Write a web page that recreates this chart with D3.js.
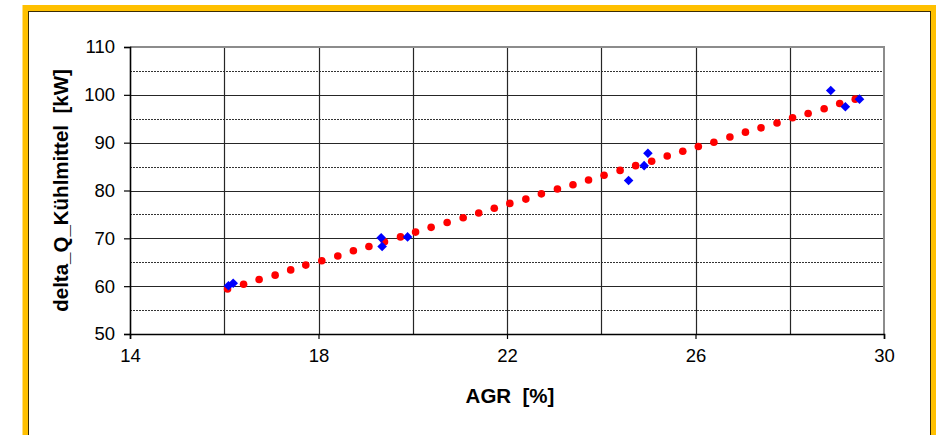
<!DOCTYPE html>
<html>
<head>
<meta charset="utf-8">
<script src="https://cdn.jsdelivr.net/npm/d3@7"></script>
<style>
  body { margin: 0; background: #fff; }
  svg { display: block; font-family: Arial, "Liberation Sans", sans-serif; }
  .title { white-space: pre; }
</style>
</head>
<body>
<div id="chart"></div>
<script>
// measured values (blue diamonds)
var measAgr = [16.09, 16.19, 19.33, 19.35, 19.89, 24.58, 24.91, 24.99, 28.87, 29.18, 29.48]
var measQ   = [60.1, 60.6, 70.1, 68.3, 70.3, 82.1, 85.2, 87.8, 100.9, 97.5, 99.1]

// trend dots (red)
var fitAgr = [16.07, 16.41, 16.74, 17.08, 17.41, 17.73, 18.07, 18.41, 18.74, 19.07,
              19.40, 19.74, 20.06, 20.39, 20.73, 21.07, 21.40, 21.73, 22.06, 22.40,
              22.73, 23.07, 23.40, 23.73, 24.06, 24.40, 24.73, 25.07, 25.40, 25.73,
              26.06, 26.39, 26.73, 27.06, 27.39, 27.73, 28.06, 28.39, 28.73, 29.06, 29.39]
var fitQ   = [59.4, 60.4, 61.4, 62.3, 63.4, 64.4, 65.3, 66.3, 67.4, 68.3,
              69.3, 70.3, 71.3, 72.3, 73.3, 74.3, 75.3, 76.3, 77.3, 78.2,
              79.3, 80.3, 81.2, 82.2, 83.2, 84.2, 85.2, 86.1, 87.2, 88.2,
              89.2, 90.1, 91.2, 92.2, 93.1, 94.1, 95.2, 96.1, 97.1, 98.2, 99.1]

var xTicks = [14, 18, 22, 26, 30]
var xGrid  = [16, 18, 20, 22, 24, 26, 28]
var yTicks = [50, 60, 70, 80, 90, 100, 110]
var yMinor = [55, 65, 75, 85, 95, 105]

var width = 936, height = 435
var plot = {left: 130, right: 884, top: 47, bottom: 334}

var svg = d3.select('#chart').append('svg')
    .attr('width', width)
    .attr('height', height)

// orange frame
svg.append('rect')
    .attr('x', 22.5).attr('y', 5)
    .attr('width', width - 22.5).attr('height', height)
    .attr('fill', '#FFC000')
svg.append('rect')
    .attr('x', 28.5).attr('y', 11.5)
    .attr('width', 902).attr('height', height)
    .attr('fill', '#fff')
    .attr('stroke', '#3a2c05')
    .attr('stroke-width', 1)

var x = d3.scaleLinear().domain([14, 30]).range([plot.left, plot.right])
var y = d3.scaleLinear().domain([50, 110]).range([plot.bottom, plot.top])

var g = svg.append('g')

// minor dotted horizontals
g.selectAll('line.minor')
    .data(yMinor)
    .enter().append('line')
    .attr('class', 'minor')
    .attr('x1', plot.left).attr('x2', plot.right)
    .attr('y1', function(d) { return Math.round(y(d)) + 0.5 })
    .attr('y2', function(d) { return Math.round(y(d)) + 0.5 })
    .attr('stroke', '#333')
    .attr('stroke-width', 1)
    .attr('stroke-dasharray', '2,1')

// major horizontals
g.selectAll('line.hmajor')
    .data(yTicks.slice(1, -1))
    .enter().append('line')
    .attr('class', 'hmajor')
    .attr('x1', plot.left).attr('x2', plot.right)
    .attr('y1', function(d) { return Math.round(y(d)) + 0.5 })
    .attr('y2', function(d) { return Math.round(y(d)) + 0.5 })
    .attr('stroke', '#262626')
    .attr('stroke-width', 1.2)

// verticals
g.selectAll('line.vgrid')
    .data(xGrid)
    .enter().append('line')
    .attr('class', 'vgrid')
    .attr('y1', plot.top).attr('y2', plot.bottom)
    .attr('x1', function(d) { return Math.round(x(d)) + 0.5 })
    .attr('x2', function(d) { return Math.round(x(d)) + 0.5 })
    .attr('stroke', '#262626')
    .attr('stroke-width', 1.2)

// top and right border of plot area
g.append('path')
    .attr('d', 'M' + plot.left + ',' + plot.top + 'H' + plot.right + 'V' + plot.bottom)
    .attr('fill', 'none')
    .attr('stroke', '#8c8c8c')
    .attr('stroke-width', 2)

// axes
var yAxis = d3.axisLeft(y).tickValues(yTicks).tickSize(6).tickPadding(9)
var xAxis = d3.axisBottom(x).tickValues(xTicks).tickSize(5).tickPadding(10)

var ya = g.append('g')
    .attr('transform', 'translate(' + plot.left + ',0)')
    .call(yAxis)
var xa = g.append('g')
    .attr('transform', 'translate(0,' + plot.bottom + ')')
    .call(xAxis)

;[ya, xa].forEach(function(a) {
  a.select('.domain').attr('stroke', '#000').attr('stroke-width', 1.6)
  a.selectAll('.tick line').attr('stroke', '#000').attr('stroke-width', 1.2)
  a.selectAll('.tick text')
      .attr('fill', '#000')
      .style('font-size', '18.5px')
      .style('font-family', 'Arial, "Liberation Sans", sans-serif')
})

// trend dots
g.selectAll('circle.fit')
    .data(fitAgr)
    .enter().append('circle')
    .attr('class', 'fit')
    .attr('cx', function(d) { return x(d) })
    .attr('cy', function(d, i) { return y(fitQ[i]) })
    .attr('r', 3.8)
    .attr('fill', '#FF0000')

// measured diamonds
var diamond = d3.symbol().type(d3.symbolSquare).size(46)
g.selectAll('path.meas')
    .data(measAgr)
    .enter().append('path')
    .attr('class', 'meas')
    .attr('d', diamond)
    .attr('transform', function(d, i) {
      return 'translate(' + x(d) + ',' + y(measQ[i]) + ') rotate(45)'
    })
    .attr('fill', '#0000FF')

// axis titles
svg.append('text')
    .attr('class', 'title')
    .attr('x', (plot.left + plot.right) / 2 + 3)
    .attr('y', 403)
    .attr('text-anchor', 'middle')
    .style('font-size', '20.5px')
    .style('font-weight', 'bold')
    .text('AGR  [%]')

svg.append('text')
    .attr('class', 'title')
    .attr('transform', 'translate(68,' + ((plot.top + plot.bottom) / 2) + ') rotate(-90)')
    .attr('text-anchor', 'middle')
    .style('font-size', '20.5px')
    .style('font-weight', 'bold')
    .text('delta_Q_Kühlmittel  [kW]')
</script>
</body>
</html>
